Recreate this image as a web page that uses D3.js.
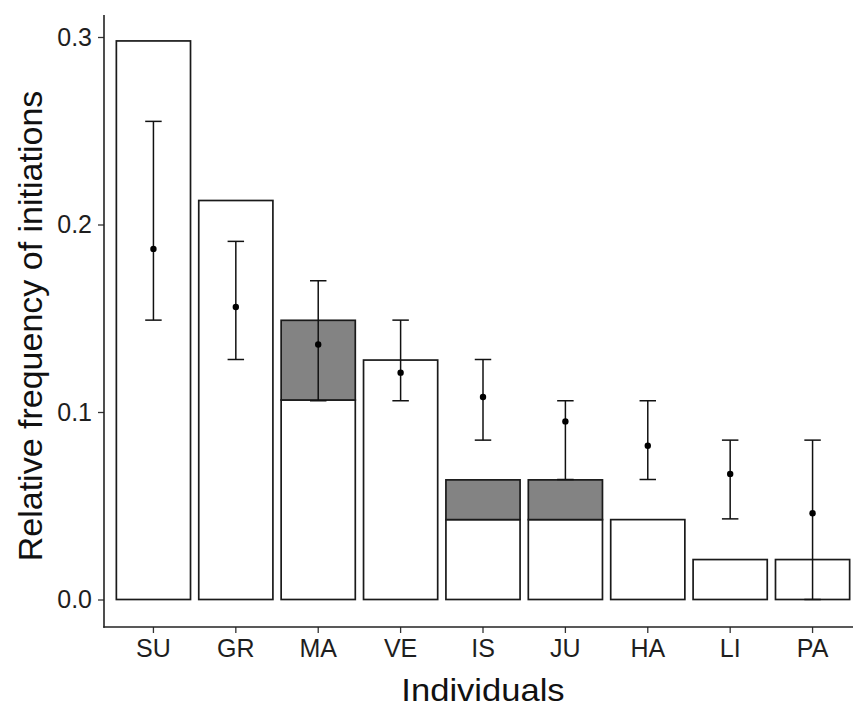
<!DOCTYPE html>
<html>
<head>
<meta charset="utf-8">
<script src="https://cdn.jsdelivr.net/npm/d3@7"></script>
<style>
  html, body { margin: 0; padding: 0; background: #fff; }
  svg { display: block; font-family: "Liberation Sans", Arial, sans-serif; }
</style>
</head>
<body>
<svg id="chart" width="853" height="708"></svg>
<script>
// ---- data ----
const individuals = ["SU", "GR", "MA", "VE", "IS", "JU", "HA", "LI", "PA"];
// white (base) part of each bar
const baseFreq  = [0.2979, 0.2128, 0.1064, 0.1277, 0.0426, 0.0426, 0.0426, 0.0213, 0.0213];
// grey part stacked on top
const extraFreq = [0, 0, 0.0425, 0, 0.0212, 0.0212, 0, 0, 0];
// point estimates and intervals
const pointEst = [0.187, 0.156, 0.136, 0.121, 0.108, 0.095, 0.082, 0.067, 0.046];
const lowerCI  = [0.149, 0.128, 0.106, 0.106, 0.085, 0.064, 0.064, 0.043, 0.000];
const upperCI  = [0.255, 0.191, 0.170, 0.149, 0.128, 0.106, 0.106, 0.085, 0.085];
const yTicks = [0.0, 0.1, 0.2, 0.3];
const xTitle = "Individuals";
const yTitle = "Relative frequency of initiations";

// ---- layout ----
const svg = d3.select("#chart");
const panel = { left: 104, right: 862, top: 15, bottom: 627 };

const yRef = d3.scaleLinear().domain([0, 0.3]).range([599.5, 37]);
const y = d3.scaleLinear()
  .domain([yRef.invert(panel.bottom), yRef.invert(panel.top)])
  .range([panel.bottom, panel.top]);

const x = d3.scaleBand()
  .domain(individuals)
  .range([panel.left, panel.right])
  .paddingInner(0.1)
  .paddingOuter(0.15);

const data = individuals.map((k, i) => ({
  k, base: baseFreq[i], extra: extraFreq[i],
  pt: pointEst[i], lo: lowerCI[i], hi: upperCI[i]
}));

const g = svg.append("g");

// bars: white base
g.selectAll("rect.base").data(data).enter().append("rect")
  .attr("class", "base")
  .attr("x", d => x(d.k))
  .attr("width", x.bandwidth())
  .attr("y", d => y(d.base))
  .attr("height", d => y(0) - y(d.base))
  .attr("fill", "#ffffff")
  .attr("stroke", "#1a1a1a")
  .attr("stroke-width", 1.7);

// grey stacked part
g.selectAll("rect.extra").data(data.filter(d => d.extra > 0)).enter().append("rect")
  .attr("class", "extra")
  .attr("x", d => x(d.k))
  .attr("width", x.bandwidth())
  .attr("y", d => y(d.base + d.extra))
  .attr("height", d => y(d.base) - y(d.base + d.extra))
  .attr("fill", "#838383")
  .attr("stroke", "#1a1a1a")
  .attr("stroke-width", 1.7);

// error bars
const cx = d => x(d.k) + x.bandwidth() / 2;
const hw = x.step() * 0.1;
const eb = g.selectAll("g.eb").data(data).enter().append("g").attr("class", "eb")
  .attr("stroke", "#111").attr("stroke-width", 1.5);
eb.append("line").attr("x1", cx).attr("x2", cx).attr("y1", d => y(d.lo)).attr("y2", d => y(d.hi));
eb.append("line").attr("x1", d => cx(d) - hw).attr("x2", d => cx(d) + hw).attr("y1", d => y(d.hi)).attr("y2", d => y(d.hi));
eb.append("line").attr("x1", d => cx(d) - hw).attr("x2", d => cx(d) + hw).attr("y1", d => y(d.lo)).attr("y2", d => y(d.lo));
g.selectAll("circle.pt").data(data).enter().append("circle")
  .attr("class", "pt")
  .attr("cx", cx).attr("cy", d => y(d.pt)).attr("r", 3.2).attr("fill", "#000");

// axes
const axisColor = "#222";
const yAxis = svg.append("g")
  .attr("transform", `translate(${panel.left},0)`)
  .call(d3.axisLeft(y).tickValues(yTicks).tickFormat(d3.format(".1f")).tickSize(6).tickPadding(6));
const xAxis = svg.append("g")
  .attr("transform", `translate(0,${panel.bottom})`)
  .call(d3.axisBottom(x).tickSize(6).tickPadding(6));

[xAxis, yAxis].forEach(a => {
  a.select(".domain").remove();
  a.selectAll(".tick line").attr("stroke", "#333").attr("stroke-width", 1.3);
  a.selectAll(".tick text").attr("fill", "#1e1e1e").attr("font-size", 25)
    .attr("font-family", "'Liberation Sans', Arial, sans-serif");
});
xAxis.selectAll(".tick text").attr("dy", "0.71em");

svg.append("line")
  .attr("x1", panel.left).attr("x2", panel.left)
  .attr("y1", panel.top).attr("y2", panel.bottom + 0.75)
  .attr("stroke", axisColor).attr("stroke-width", 1.6);
svg.append("line")
  .attr("x1", panel.left - 0.75).attr("x2", panel.right)
  .attr("y1", panel.bottom).attr("y2", panel.bottom)
  .attr("stroke", axisColor).attr("stroke-width", 1.6);

// titles
const xc = (panel.left + panel.right) / 2;
svg.append("text")
  .attr("transform", `translate(${xc},700.5) scale(1.08,1)`)
  .attr("text-anchor", "middle")
  .attr("font-size", 32)
  .attr("fill", "#111")
  .text(xTitle);

svg.append("text")
  .attr("transform", `translate(42,${(panel.top + panel.bottom) / 2 + 5}) rotate(-90)`)
  .attr("text-anchor", "middle")
  .attr("font-size", 34)
  .attr("fill", "#111")
  .text(yTitle);
</script>
</body>
</html>
